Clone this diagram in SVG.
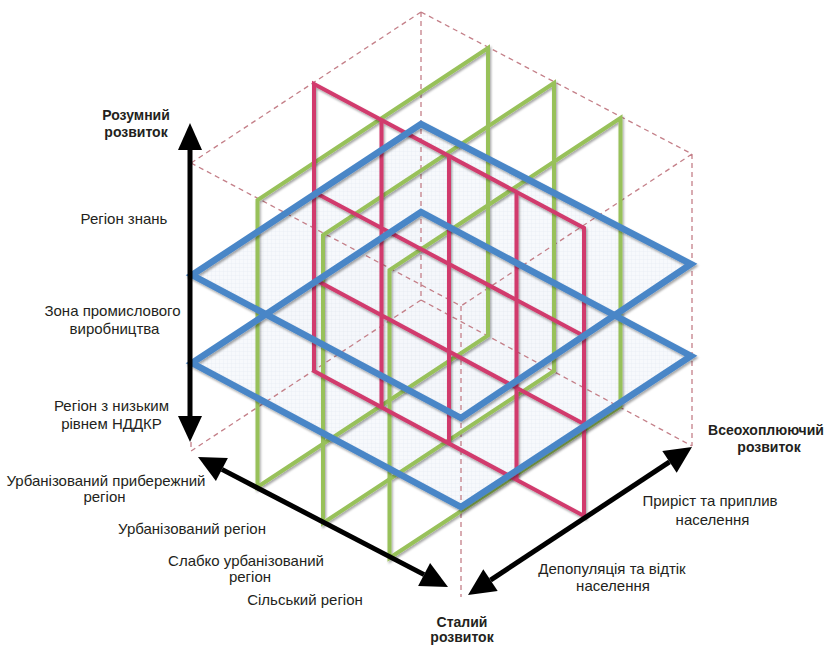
<svg xmlns="http://www.w3.org/2000/svg" width="825" height="646" viewBox="0 0 825 646">
<style>
.lb{font-family:"Liberation Sans",Arial,sans-serif;font-size:15px;fill:#231f20;text-anchor:middle}
.bd{font-weight:bold;font-size:14px}
.dash{fill:none;stroke:#c47f88;stroke-width:1.3;stroke-dasharray:5 4}
.gr{fill:none;stroke:#98c15a;stroke-width:4;stroke-linejoin:miter}
.pk{fill:none;stroke:#d13a6d;stroke-width:4;stroke-linejoin:miter}
.bl{fill:none;stroke:#4a86c7;stroke-width:6.5;stroke-linejoin:miter}
.blf{fill:url(#grid);stroke:none;opacity:.8}
.ax{fill:#000;stroke:none}
.shaft{stroke:#000;stroke-width:5;fill:none}
</style>
<defs>
<pattern id="grid" width="4" height="4" patternUnits="userSpaceOnUse">
<rect width="4" height="4" fill="#f5f7fb"/>
<path d="M4 0V4M0 4H4" stroke="#dde4ee" stroke-width="0.6"/>
</pattern>
<filter id="sh" x="-10%" y="-10%" width="120%" height="120%">
<feDropShadow dx="1.2" dy="2" stdDeviation="1" flood-color="#000" flood-opacity="0.35"/>
</filter>
</defs>
<rect width="825" height="646" fill="#fff"/>

<g id="plane-fills">
<path class="blf" d="M192 275L421 124L691 264L461 418Z"/>
<path class="blf" d="M192 363L421 212L691 356L461 507Z"/>
</g>

<g id="cube-frame">
<path class="dash" d="M421 12L191 163M421 12L692 154M191 163L461 306M692 154L461 306M421 12L421 300M461 306L461 597M191 163L191 451M692 154L692 446M421 300L191 451M421 300L692 446"/>
</g>

<g id="green-planes" filter="url(#sh)">
<path class="gr" d="M257.5 487L257.5 200L488 48L488 335.5Z"/>
<path class="gr" d="M323 523L323 235L554 83L554 371Z"/>
<path class="gr" d="M389.5 558L389.5 270L620.5 118L620.5 406.5Z"/>
</g>

<g id="pink-plane" filter="url(#sh)">
<path class="pk" d="M314 84L584 228L584 516L314 371Z"/>
<path class="pk" d="M381.5 120V407.5M449 156V443.5M516.5 192V479.5M314 192L584 336M314 279L584 424"/>
</g>

<g id="blue-planes" filter="url(#sh)">
<path class="bl" d="M192 275L421 124L691 264L461 418Z"/>
<path class="bl" d="M192 363L421 212L691 356L461 507Z"/>
</g>

<g id="connectors">
<g id="axis-vertical">
<path class="shaft" d="M190 148V419"/>
<path class="ax" d="M190 123L202 150L178 150Z"/>
<path class="ax" d="M190 442L202 416L178 416Z"/>
</g>
<g id="axis-left">
<path class="shaft" d="M221.9 469.4L424.1 574.6"/>
<path class="ax" d="M198 457L227.9 457.9L215.9 480.9Z"/>
<path class="ax" d="M448 587L418.1 586.1L430.1 563.1Z"/>
</g>
<g id="axis-right">
<path class="shaft" d="M490.5 580.1L669.5 461.9"/>
<path class="ax" d="M692 447L676.7 472.7L662.3 451.1Z"/>
<path class="ax" d="M468 595L483.3 569.3L497.7 590.9Z"/>
</g>
</g>

<g id="label-smart">
<text class="lb bd" x="136" y="119.5">Розумний</text>
<text class="lb bd" x="136" y="136.5">розвиток</text>
</g>
<g id="label-knowledge"><text class="lb" x="124" y="224">Регіон знань</text></g>
<g id="label-industry">
<text class="lb" x="112.5" y="316">Зона промислового</text>
<text class="lb" x="114.5" y="334">виробництва</text>
</g>
<g id="label-lowrd">
<text class="lb" x="111.5" y="411">Регіон з низьким</text>
<text class="lb" x="111.5" y="429">рівнем НДДКР</text>
</g>
<g id="label-coastal">
<text class="lb" x="106" y="485.5">Урбанізований прибережний</text>
<text class="lb" x="104.5" y="502">регіон</text>
</g>
<g id="label-urban"><text class="lb" x="192" y="534">Урбанізований регіон</text></g>
<g id="label-weak">
<text class="lb" x="246" y="566">Слабко урбанізований</text>
<text class="lb" x="250" y="582">регіон</text>
</g>
<g id="label-rural"><text class="lb" x="305" y="605">Сільський регіон</text></g>
<g id="label-sustainable">
<text class="lb bd" x="462" y="627">Сталий</text>
<text class="lb bd" x="462" y="642">розвиток</text>
</g>
<g id="label-inclusive">
<text class="lb bd" x="766" y="435">Всеохоплюючий</text>
<text class="lb bd" x="769" y="452">розвиток</text>
</g>
<g id="label-growth">
<text class="lb" x="710" y="506">Приріст та приплив</text>
<text class="lb" x="712.5" y="524.5">населення</text>
</g>
<g id="label-depop">
<text class="lb" x="612" y="574">Депопуляція та відтік</text>
<text class="lb" x="613" y="591">населення</text>
</g>
</svg>
